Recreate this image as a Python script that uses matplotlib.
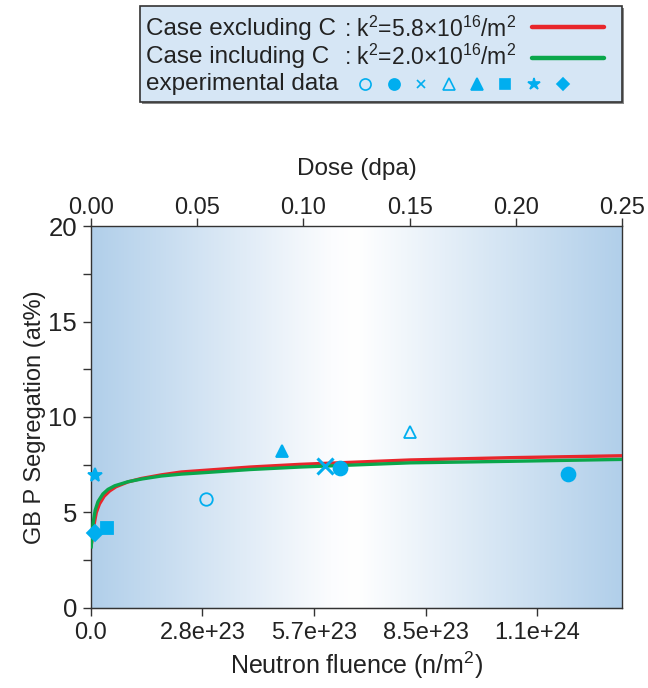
import numpy as np
import matplotlib
matplotlib.use("Agg")
import matplotlib.pyplot as plt
from matplotlib.colors import LinearSegmentedColormap
from matplotlib.patches import Rectangle
from matplotlib.lines import Line2D

plt.rcParams['font.family'] = ['Liberation Sans', 'DejaVu Sans']
plt.rcParams['mathtext.fontset'] = 'custom'
plt.rcParams['mathtext.rm'] = 'Liberation Sans'

# model curves (dose in dpa, segregation in at%)
dose_excl = [0.0001, 0.0008, 0.0015, 0.0025, 0.0040, 0.0062, 0.0088, 0.0118, 0.0174,
             0.0237, 0.0331, 0.0425, 0.075, 0.0984, 0.1502, 0.1973, 0.25]
seg_excl = [3.3, 3.75, 4.4, 5.0, 5.45, 5.85, 6.13, 6.35, 6.6,
            6.78, 6.97, 7.12, 7.38, 7.52, 7.75, 7.87, 7.97]
dose_incl = [0.0001, 0.0005, 0.0011, 0.0020, 0.0033, 0.0056, 0.0080, 0.0112, 0.0174,
             0.0237, 0.0331, 0.0425, 0.0496, 0.075, 0.0984, 0.1502, 0.1973, 0.25]
seg_incl = [3.2, 3.82, 4.52, 5.13, 5.57, 5.97, 6.21, 6.40, 6.61,
            6.75, 6.91, 7.01, 7.06, 7.25, 7.38, 7.60, 7.68, 7.78]

# experimental data, one marker per set
exp_markers = ['o', 'o', 'x', '^', '^', 's', '*', 'D']
exp_filled = [False, True, True, False, True, True, True, True]
exp_dose = [[0.054], [0.117, 0.2247], [0.110], [0.150], [0.090], [0.0077], [0.0019], [0.0019]]
exp_seg = [[5.69], [7.31, 7.0], [7.45], [9.23], [8.23], [4.17], [6.96], [3.94]]
exp_sizes = [9, 10, 11, 8, 9, 8, 10, 8]

fluence_per_dpa = 5.4e24
fluence_ticks = [0, 2.835e23, 5.67e23, 8.505e23, 1.134e24]
fluence_labels = ['0.0', '2.8e+23', '5.7e+23', '8.5e+23', '1.1e+24']
dose_ticks = [0.0, 0.05, 0.10, 0.15, 0.20, 0.25]
dose_labels = ['0.00', '0.05', '0.10', '0.15', '0.20', '0.25']

red = '#e8262b'
green = '#0aa74b'
cyan = '#00aeef'
dark = '#333333'
txt = '#222222'

fig = plt.figure(figsize=(6.48, 6.88), dpi=100)
ax = fig.add_axes([0.1404, 0.1163, 0.8195, 0.5552])

# background gradient
cmap = LinearSegmentedColormap.from_list(
    'bg', [(0, '#b1cfea'), (0.45, '#fbfcfe'), (0.5, '#ffffff'), (1, '#b1cfea')])
ax.imshow(np.linspace(0, 1, 256)[None, :], cmap=cmap, aspect='auto',
          extent=[0, 0.25, 0, 20], zorder=0, interpolation='bilinear')

for m, f, xs, ys, s in zip(exp_markers, exp_filled, exp_dose, exp_seg, exp_sizes):
    ax.plot(xs, ys, linestyle='none', marker=m, markersize=s,
            markerfacecolor=cyan if f else 'none', markeredgecolor=cyan,
            markeredgewidth=2.2 if m == 'x' else 1.3, zorder=4, clip_on=False)

ax.plot(dose_excl, seg_excl, color=red, lw=2.4, zorder=3, solid_joinstyle='round')
ax.plot(dose_incl, seg_incl, color=green, lw=2.4, zorder=3, solid_joinstyle='round')

ax.set_xlim(0, 0.25)
ax.set_ylim(0, 20)

# dose axis on top
ax.xaxis.tick_top()
ax.xaxis.set_label_position('top')
ax.set_xticks(dose_ticks)
ax.set_xticklabels(dose_labels)
ax.set_xlabel('Dose (dpa)', fontsize=17.5, labelpad=16)
ax.tick_params(axis='x', direction='out', length=6, width=1, color=dark,
               labelsize=17, pad=-1, labelcolor=txt)

ax.set_yticks([0, 5, 10, 15, 20])
ax.set_yticks([2.5, 7.5, 12.5, 17.5], minor=True)
ax.tick_params(axis='y', which='both', direction='out', length=6, width=1,
               color=dark, labelsize=18.5, pad=4, labelcolor=txt)
ax.set_ylabel('GB P Segregation (at%)', fontsize=17, labelpad=2, color=txt)

sec = ax.secondary_xaxis('bottom', functions=(lambda d: d * fluence_per_dpa,
                                               lambda f: f / fluence_per_dpa))
sec.set_xticks(fluence_ticks)
sec.set_xticklabels(fluence_labels)
sec.tick_params(direction='out', length=6, width=1, color=dark, labelsize=17,
                pad=4, labelcolor=txt)
sec.set_xlabel('Neutron fluence (n/m$^2$)', fontsize=18, labelpad=4, color=txt)
sec.spines['bottom'].set_color(dark)
ax.xaxis.label.set_color(txt)

for sp in ax.spines.values():
    sp.set_color(dark)
    sp.set_linewidth(1)

# legend box drawn in figure pixels
W, H = 648, 688


def fx(x):
    return x / W


def fy(y):
    return 1 - y / H


fig.patches.append(Rectangle((fx(142), fy(104)), fx(482), 96 / H,
                             transform=fig.transFigure, facecolor='#888888',
                             edgecolor='none', zorder=0))
fig.patches.append(Rectangle((fx(140), fy(102)), fx(482), 96 / H,
                             transform=fig.transFigure, facecolor='#d6e6f5',
                             edgecolor='#333333', lw=1.2, zorder=1))
legend_left = ['Case excluding C', 'Case including C', 'experimental data']
legend_right = [r': k$^2$=5.8×10$^{16}$/m$^2$', r': k$^2$=2.0×10$^{16}$/m$^2$']
line_y = [29, 57, 84]
for t, y in zip(legend_left, line_y):
    fig.text(fx(146), fy(y), t, fontsize=17.5, va='center', ha='left', color=txt)
for t, y in zip(legend_right, line_y):
    fig.text(fx(344), fy(y), t, fontsize=16.5, va='center', ha='left', color=txt)
for c, y in zip([red, green], [27, 58]):
    fig.add_artist(Line2D([fx(532), fx(604)], [fy(y), fy(y)], color=c, lw=3.2,
                          transform=fig.transFigure, solid_capstyle='round'))
leg_x = [365, 394, 421, 449, 477, 505, 534, 563]
leg_sizes = [8, 8, 6, 8, 8, 7, 9, 6]
for x, m, f, s in zip(leg_x, exp_markers, exp_filled, leg_sizes):
    fig.add_artist(Line2D([fx(x)], [fy(84)], marker=m, markersize=s,
                          markerfacecolor=cyan if f else 'none', markeredgecolor=cyan,
                          markeredgewidth=1.2, linestyle='none',
                          transform=fig.transFigure))

fig.savefig('out.png', dpi=100)
